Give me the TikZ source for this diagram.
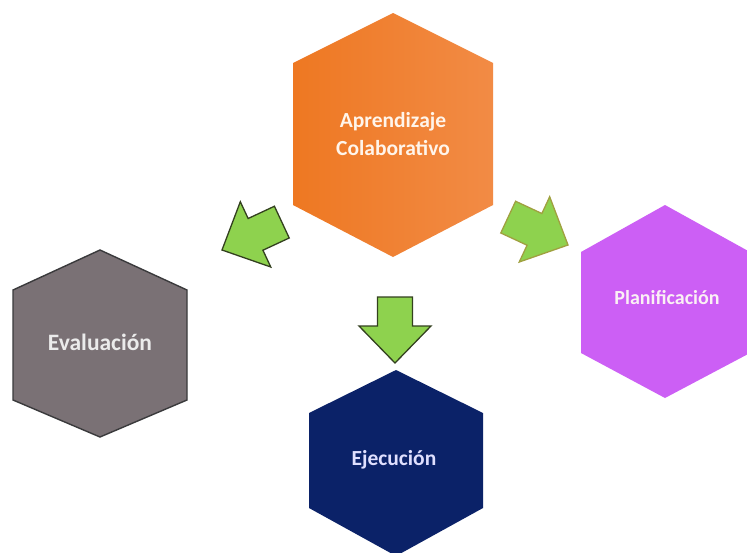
\documentclass[tikz,border=0pt]{standalone}
\usepackage{fontspec}
\setmainfont{Carlito}
\definecolor{orangeL}{HTML}{EE7822}
\definecolor{orangeR}{HTML}{F28B45}
\definecolor{greyhex}{HTML}{7A7175}
\definecolor{greyedge}{HTML}{3A3A3C}
\definecolor{purplehex}{HTML}{CC5FF5}
\definecolor{navyhex}{HTML}{0B2268}
\definecolor{arrowgreen}{HTML}{8ED24E}
\definecolor{arrowdark}{HTML}{33401F}
\definecolor{arrowolive}{HTML}{A0A040}
\tikzset{
  hexorange/.style={left color=orangeL, right color=orangeR, draw=none},
  hexgrey/.style={fill=greyhex, draw=greyedge, line width=1.4pt, line join=miter},
  hexpurple/.style={fill=purplehex, draw=none},
  hexnavy/.style={fill=navyhex, draw=none},
  hexlabel/.style={text=white, align=center, inner sep=0pt},
  greenarrow/.style={fill=arrowgreen, draw=arrowdark, line width=1.3pt, line join=miter},
}
\newcommand{\blockarrowpath}{(0,0) -- (-37,36) -- (-37,17.5) -- (-66,17.5) -- (-66,-17.5) -- (-37,-17.5) -- (-37,-36) -- cycle}
\begin{document}
\begin{tikzpicture}[x=1pt,y=-1pt]
\useasboundingbox (0,0) rectangle (747,552);
\fill[white] (0,0) rectangle (747,552);

% hexagons
\path[hexorange] (393,13) -- (493,63) -- (493,205) -- (393,257) -- (293,205) -- (293,63) -- cycle;
\path[hexgrey] (100,250) -- (187,290) -- (187,400) -- (100,437) -- (13,400) -- (13,290) -- cycle;
\path[hexpurple] (665,205) -- (750,252) -- (750,353) -- (665,398) -- (581,353) -- (581,252) -- cycle;
\path[hexnavy] (396,370) -- (483,413) -- (483,508) -- (396,556) -- (309,508) -- (309,413) -- cycle;

% labels
\node[hexlabel, text=orange!8, font=\fontsize{21.5}{28}\selectfont\bfseries] (apr) at (393,134) {Aprendizaje\\Colaborativo};
\node[hexlabel, text=white!92!black, font=\fontsize{23.5}{28}\selectfont\bfseries] (eva) at (100,342) {Evaluación};
\node[hexlabel, text=purple!6, font=\fontsize{20}{26}\selectfont\bfseries] (pla) at (667,298) {Planificación};
\node[hexlabel, text=blue!12, font=\fontsize{21.5}{26}\selectfont\bfseries] (eje) at (394,460) {Ejecución};

% arrows
\begin{scope}[shift={(222,250)}, rotate=205]
  \path[greenarrow] \blockarrowpath;
\end{scope}
\begin{scope}[shift={(568,245)}, rotate=-25]
  \path[greenarrow, draw=arrowolive] \blockarrowpath;
\end{scope}
\begin{scope}[shift={(395,363)}, rotate=-90]
  \path[greenarrow] \blockarrowpath;
\end{scope}
\end{tikzpicture}
\end{document}
